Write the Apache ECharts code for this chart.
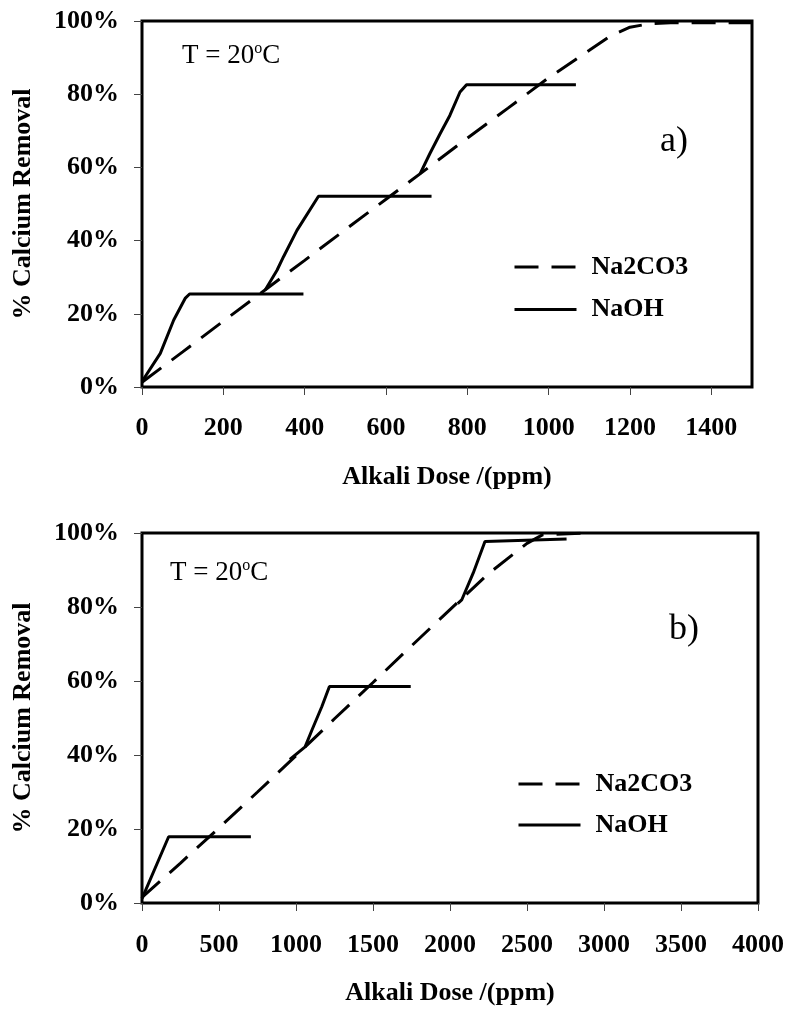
<!DOCTYPE html>
<html>
<head>
<meta charset="utf-8">
<script src="https://cdn.jsdelivr.net/npm/echarts@6/dist/echarts.min.js"></script>
<style>
  html, body { margin: 0; padding: 0; background: #fff; }
  #chart { width: 787px; height: 1009px; }
</style>
</head>
<body>
<div id="chart"></div>
<script>
// ---- Panel a) : dose range 0–1500 ppm ----
const doseTicksA = [0, 200, 400, 600, 800, 1000, 1200, 1400];
const na2co3DoseA = [0, 100, 200, 300, 400, 500, 600, 700, 800, 900, 1000, 1100, 1150, 1200, 1250, 1300, 1500];
const na2co3RemovalA = [1.3, 9.6, 18, 26.3, 34.6, 43, 51.3, 59.6, 68, 76.2, 84.5, 92, 95.8, 98.3, 99.3, 99.5, 99.5];
// NaOH is drawn as three separate step segments
const naohDoseA1 = [0, 45, 78, 106, 117, 397];
const naohRemovalA1 = [1.5, 9.2, 18.3, 24.2, 25.4, 25.4];
const naohDoseA2 = [303, 332, 348, 381, 434, 712];
const naohRemovalA2 = [26.5, 31.9, 35.6, 42.8, 52.1, 52.1];
const naohDoseA3 = [684, 708, 733, 757, 782, 798, 1067];
const naohRemovalA3 = [58.3, 63.8, 69.2, 74.2, 80.6, 82.6, 82.6];

// ---- Panel b) : dose range 0–4000 ppm ----
const na2co3DoseB = [0, 250, 500, 750, 1000, 1250, 1500, 1750, 2000, 2250, 2500, 2600, 2900];
const na2co3RemovalB = [1.5, 10.8, 20.3, 30, 39.8, 49.8, 59.6, 69.5, 79.3, 89, 97.2, 99.5, 100];
const naohDoseB1 = [0, 173, 707];
const naohRemovalB1 = [1.2, 17.9, 17.9];
const naohDoseB2 = [960, 1059, 1103, 1168, 1217, 1745];
const naohRemovalB2 = [38.8, 42.2, 46.7, 53.1, 58.5, 58.5];
const naohDoseB3 = [2050, 2076, 2151, 2227, 2757];
const naohRemovalB3 = [80.9, 81.9, 89.2, 97.7, 98.4];

const seriesNames = ['Na2CO3', 'NaOH'];
const FONT = "'Liberation Serif', 'Times New Roman', serif";
const zip = (xs, ys) => xs.map((x, i) => [x, ys[i]]);

const DASH = [24, 13];
const dashedStyle = { color: '#000', width: 3, type: DASH };
const solidStyle = { color: '#000', width: 3, type: 'solid' };

function lineSeries(name, data, idx, style) {
  return {
    type: 'line', name: name, data: data,
    xAxisIndex: idx, yAxisIndex: idx,
    symbol: 'none', showSymbol: false, silent: true,
    lineStyle: style, itemStyle: { color: '#000' },
    z: name === 'NaOH' ? 3 : 2
  };
}

function yAxisFor(idx) {
  return {
    type: 'value', gridIndex: idx, min: 0, max: 100, interval: 20,
    name: '% Calcium Removal', nameLocation: 'middle', nameRotate: 90, nameGap: 106,
    nameTextStyle: { fontFamily: FONT, fontSize: 26, fontWeight: 'bold', color: '#000' },
    axisLine: { show: false },
    axisTick: { show: true, inside: false, length: 8, lineStyle: { color: '#444', width: 1 } },
    axisLabel: { formatter: '{value}%', margin: 23, fontFamily: FONT, fontSize: 26, fontWeight: 'bold', color: '#000' },
    splitLine: { show: false }
  };
}

const plainNumber = v => String(v);
const xLabelStyle = { fontFamily: FONT, fontSize: 26, fontWeight: 'bold', color: '#000', margin: 28, formatter: plainNumber };
const xNameStyle = { fontFamily: FONT, fontSize: 26, fontWeight: 'bold', color: '#000' };

const legendText = { fontFamily: FONT, fontSize: 26, fontWeight: 'bold', color: '#000', lineHeight: 30, padding: [0, 0, 0, 10] };
const legendItems = [
  { name: seriesNames[0], lineStyle: { type: DASH, width: 3, color: '#000' } },
  { name: seriesNames[1], lineStyle: { type: 'solid', width: 3, color: '#000' } }
];

function legendAt(left, top, gap) {
  return {
    data: legendItems, orient: 'vertical', left: left, top: top, padding: 0,
    itemWidth: 62, itemHeight: 14, itemGap: gap, selectedMode: false,
    itemStyle: { opacity: 0 },
    textStyle: legendText
  };
}

function tempLabel(left, top) {
  return {
    type: 'text', left: left, top: top, silent: true,
    style: {
      text: '{n|T = 20}{s|o}{n|C}',
      rich: {
        n: { fontFamily: FONT, fontSize: 27, color: '#000' },
        s: { fontFamily: FONT, fontSize: 16, color: '#000', padding: [0, 0, 14, 0] }
      }
    }
  };
}

const option = {
  animation: false,
  backgroundColor: '#fff',
  grid: [
    { left: 142, top: 21, right: 35, bottom: 622, show: true, borderColor: '#000', borderWidth: 3, backgroundColor: 'transparent' },
    { left: 142, top: 533, right: 29, bottom: 106, show: true, borderColor: '#000', borderWidth: 3, backgroundColor: 'transparent' }
  ],
  xAxis: [
    {
      type: 'value', gridIndex: 0, min: 0, max: 1500,
      name: 'Alkali Dose /(ppm)', nameLocation: 'middle', nameGap: 77, nameTextStyle: xNameStyle,
      axisLine: { show: false },
      axisTick: { show: true, length: 8, customValues: doseTicksA, lineStyle: { color: '#444', width: 1 } },
      axisLabel: Object.assign({ customValues: doseTicksA }, xLabelStyle),
      splitLine: { show: false }
    },
    {
      type: 'value', gridIndex: 1, min: 0, max: 4000, interval: 500,
      name: 'Alkali Dose /(ppm)', nameLocation: 'middle', nameGap: 77, nameTextStyle: xNameStyle,
      axisLine: { show: false },
      axisTick: { show: true, length: 8, lineStyle: { color: '#444', width: 1 } },
      axisLabel: Object.assign({}, xLabelStyle, { margin: 29 }),
      splitLine: { show: false }
    }
  ],
  yAxis: [yAxisFor(0), yAxisFor(1)],
  legend: [legendAt(513, 252, 12.6), legendAt(517, 769, 11)],
  graphic: [
    tempLabel(182, 41),
    tempLabel(170, 558),
    {
      type: 'text', left: 660, top: 124, silent: true,
      style: { text: 'a)', fontFamily: FONT, fontSize: 36, fill: '#000' }
    },
    {
      type: 'text', left: 669, top: 612, silent: true,
      style: { text: 'b)', fontFamily: FONT, fontSize: 36, fill: '#000' }
    }
  ],
  series: [
    lineSeries('Na2CO3', zip(na2co3DoseA, na2co3RemovalA), 0, dashedStyle),
    lineSeries('NaOH', zip(naohDoseA1, naohRemovalA1), 0, solidStyle),
    lineSeries('NaOH', zip(naohDoseA2, naohRemovalA2), 0, solidStyle),
    lineSeries('NaOH', zip(naohDoseA3, naohRemovalA3), 0, solidStyle),
    lineSeries('Na2CO3', zip(na2co3DoseB, na2co3RemovalB), 1, dashedStyle),
    lineSeries('NaOH', zip(naohDoseB1, naohRemovalB1), 1, solidStyle),
    lineSeries('NaOH', zip(naohDoseB2, naohRemovalB2), 1, solidStyle),
    lineSeries('NaOH', zip(naohDoseB3, naohRemovalB3), 1, solidStyle)
  ]
};

const chart = echarts.init(document.getElementById('chart'), null, { renderer: 'canvas' });
chart.setOption(option);
</script>
</body>
</html>
